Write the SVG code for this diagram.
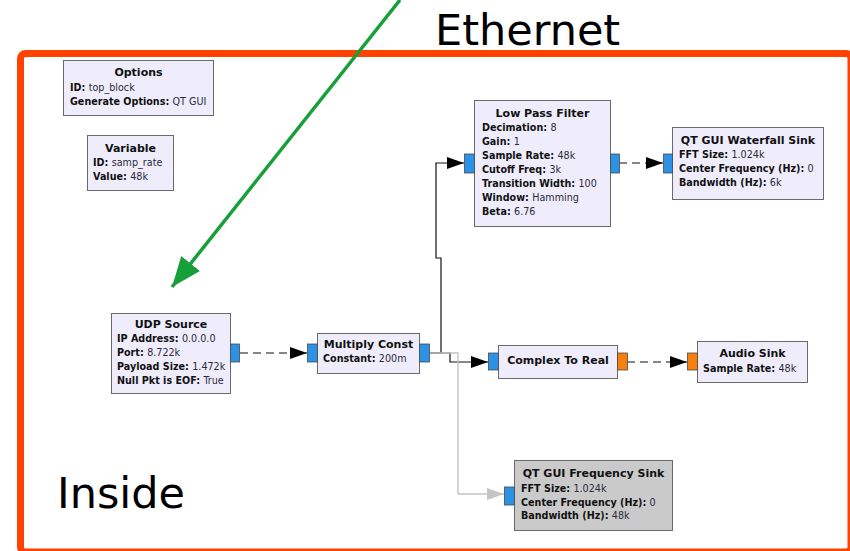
<svg xmlns="http://www.w3.org/2000/svg" width="850" height="551" viewBox="0 0 850 551">
  <style>
    .blk { fill: #efedfc; stroke: #6a6a6a; stroke-width: 1; }
    .blk.off { fill: #cacaca; }
    .title { font-family: "DejaVu Sans", Verdana, sans-serif; font-size: 11px; font-weight: bold; fill: #111; text-anchor: middle; }
    .body { font-family: "DejaVu Sans", Verdana, sans-serif; font-size: 9.6px; fill: #2a2a3a; }
    .k { font-weight: bold; fill: #111; }
    .pc { fill: #2b92e6; stroke: #4a4a4a; stroke-width: 0.8; }
    .pf { fill: #f5800e; stroke: #4a4a4a; stroke-width: 0.8; }
    .wire { fill: none; stroke: #111; stroke-width: 1.2; }
    .dash { stroke-dasharray: 8 5; }
    .ghost { fill: none; stroke: #c4c4c4; stroke-width: 1.4; }
    .big { font-family: "DejaVu Sans", Verdana, sans-serif; font-size: 43px; fill: #000; }
  </style>
  <defs>
    <marker id="ah" markerUnits="userSpaceOnUse" markerWidth="17" markerHeight="12" refX="17" refY="6" orient="auto">
      <path d="M0,0 L17,6 L0,12 z" fill="#000"/>
    </marker>
    <marker id="ahg" markerUnits="userSpaceOnUse" markerWidth="17" markerHeight="12" refX="17" refY="6" orient="auto">
      <path d="M0,0 L17,6 L0,12 z" fill="#c4c4c4"/>
    </marker>
    <marker id="gh" markerUnits="userSpaceOnUse" markerWidth="32" markerHeight="24" refX="30" refY="12" orient="auto">
      <path d="M0,0 L30,12 L0,24 z" fill="#17a03a"/>
    </marker>
  </defs>

  <rect width="850" height="551" fill="#fff"/>

  <!-- boundary frame -->
  <rect x="20.5" y="53.5" width="830.5" height="498.5" rx="5" fill="none" stroke="#ff4200" stroke-width="7"/>

  <text class="big" x="435" y="45">Ethernet</text>
  <text class="big" x="57" y="508">Inside</text>

  <!-- connectors -->
  <g id="connectors">
    <path class="wire dash" d="M240,353 H307" marker-end="url(#ah)"/>
    <path class="wire" d="M430,353 H441 V258 H436 V163 H464" marker-end="url(#ah)"/>
    <path class="wire" d="M430,353 H450 V362 H488" marker-end="url(#ah)"/>
    <path class="ghost" d="M430,353 H458 V494 H504" marker-end="url(#ahg)"/>
    <path class="wire dash" d="M619,163 H663" marker-end="url(#ah)"/>
    <path class="wire dash" d="M627,362 H687" marker-end="url(#ah)"/>
    <path d="M400,0 L172,287" fill="none" stroke="#17a03a" stroke-width="3.5" marker-end="url(#gh)"/>
  </g>

  <g id="options">
    <rect class="blk" x="63.5" y="60.5" width="150" height="55"/>
    <text class="title" x="138.5" y="76">Options</text>
    <text class="body" x="70" y="91"><tspan class="k">ID: </tspan>top_block</text>
    <text class="body" x="70" y="105"><tspan class="k">Generate Options: </tspan>QT GUI</text>
  </g>

  <g id="variable">
    <rect class="blk" x="87.5" y="135.5" width="86" height="55"/>
    <text class="title" x="130.5" y="152">Variable</text>
    <text class="body" x="93" y="166"><tspan class="k">ID: </tspan>samp_rate</text>
    <text class="body" x="93" y="180"><tspan class="k">Value: </tspan>48k</text>
  </g>

  <g id="udp_source">
    <rect class="blk" x="111.5" y="313.5" width="119" height="80"/>
    <rect class="pc" x="230.5" y="344" width="9" height="18"/>
    <text class="title" x="171" y="328">UDP Source</text>
    <text class="body" x="117" y="342"><tspan class="k">IP Address: </tspan>0.0.0.0</text>
    <text class="body" x="117" y="356"><tspan class="k">Port: </tspan>8.722k</text>
    <text class="body" x="117" y="370"><tspan class="k">Payload Size: </tspan>1.472k</text>
    <text class="body" x="117" y="384"><tspan class="k">Null Pkt is EOF: </tspan>True</text>
  </g>

  <g id="multiply_const">
    <rect class="blk" x="317.5" y="333.5" width="102" height="40"/>
    <rect class="pc" x="307.5" y="344" width="10" height="18"/>
    <rect class="pc" x="419.5" y="344" width="10" height="18"/>
    <text class="title" x="368.5" y="348">Multiply Const</text>
    <text class="body" x="323" y="362"><tspan class="k">Constant: </tspan>200m</text>
  </g>

  <g id="low_pass_filter">
    <rect class="blk" x="474.5" y="100.5" width="136" height="126"/>
    <rect class="pc" x="464.5" y="154" width="10" height="19"/>
    <rect class="pc" x="610.5" y="154" width="9" height="19"/>
    <text class="title" x="542.5" y="117">Low Pass Filter</text>
    <text class="body" x="482" y="131"><tspan class="k">Decimation: </tspan>8</text>
    <text class="body" x="482" y="145"><tspan class="k">Gain: </tspan>1</text>
    <text class="body" x="482" y="159"><tspan class="k">Sample Rate: </tspan>48k</text>
    <text class="body" x="482" y="173"><tspan class="k">Cutoff Freq: </tspan>3k</text>
    <text class="body" x="482" y="187"><tspan class="k">Transition Width: </tspan>100</text>
    <text class="body" x="482" y="201"><tspan class="k">Window: </tspan>Hamming</text>
    <text class="body" x="482" y="215"><tspan class="k">Beta: </tspan>6.76</text>
  </g>

  <g id="waterfall_sink">
    <rect class="blk" x="672.5" y="127.5" width="151" height="72"/>
    <rect class="pc" x="663.5" y="154" width="9" height="19"/>
    <text class="title" x="748" y="144">QT GUI Waterfall Sink</text>
    <text class="body" x="679" y="158"><tspan class="k">FFT Size: </tspan>1.024k</text>
    <text class="body" x="679" y="172"><tspan class="k">Center Frequency (Hz): </tspan>0</text>
    <text class="body" x="679" y="186"><tspan class="k">Bandwidth (Hz): </tspan>6k</text>
  </g>

  <g id="complex_to_real">
    <rect class="blk" x="498.5" y="345.5" width="119" height="33"/>
    <rect class="pc" x="488.5" y="353" width="10" height="17"/>
    <rect class="pf" x="617.5" y="353" width="10" height="17"/>
    <text class="title" x="558" y="364">Complex To Real</text>
  </g>

  <g id="audio_sink">
    <rect class="blk" x="697.5" y="341.5" width="110" height="41"/>
    <rect class="pf" x="687.5" y="353" width="10" height="17"/>
    <text class="title" x="752.5" y="357">Audio Sink</text>
    <text class="body" x="703" y="372"><tspan class="k">Sample Rate: </tspan>48k</text>
  </g>

  <g id="frequency_sink">
    <rect class="blk off" x="514.5" y="460.5" width="158" height="70"/>
    <rect class="pc" x="504.5" y="487" width="10" height="18"/>
    <text class="title" x="593.5" y="477">QT GUI Frequency Sink</text>
    <text class="body" x="521" y="492"><tspan class="k">FFT Size: </tspan>1.024k</text>
    <text class="body" x="521" y="506"><tspan class="k">Center Frequency (Hz): </tspan>0</text>
    <text class="body" x="521" y="519"><tspan class="k">Bandwidth (Hz): </tspan>48k</text>
  </g>
</svg>
